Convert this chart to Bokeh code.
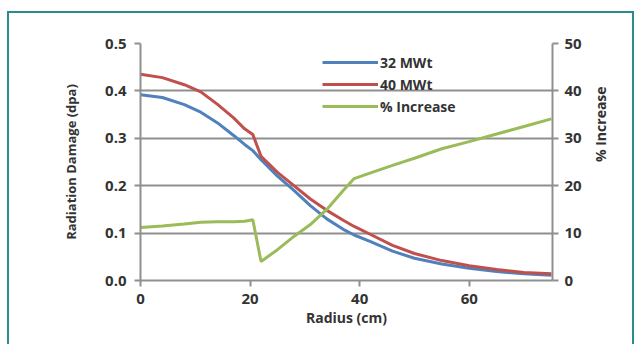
import math
from bokeh.plotting import figure
from bokeh.models import (LinearAxis, Range1d, Legend, LegendItem, FixedTicker,
                          CustomJSTickFormatter)
from bokeh.embed import file_html
from bokeh.resources import INLINE

# Radial profile (cm)
radius = [0, 4, 8, 11, 14, 17, 19, 20.5, 22, 25, 28, 31, 34, 37, 39, 42, 46, 50, 55, 60, 65, 70, 75]
# Radiation damage (dpa) at two power levels
dpa_32 = [0.392, 0.386, 0.371, 0.355, 0.333, 0.306, 0.287, 0.274, 0.255, 0.220, 0.190, 0.158,
          0.130, 0.108, 0.096, 0.082, 0.062, 0.047, 0.035, 0.026, 0.019, 0.014, 0.011]
dpa_40 = [0.435, 0.428, 0.413, 0.398, 0.372, 0.343, 0.320, 0.308, 0.262, 0.228, 0.200, 0.172,
          0.148, 0.127, 0.114, 0.097, 0.074, 0.057, 0.042, 0.031, 0.023, 0.017, 0.014]
# Percentage increase from 32 to 40 MWt
pct_increase = [11.2, 11.5, 11.9, 12.3, 12.4, 12.4, 12.5, 12.8, 4.0, 6.5, 9.3, 11.8,
                15.0, 19.0, 21.5, 22.7, 24.3, 25.8, 27.8, 29.3, 30.9, 32.5, 34.1]

x_ticks = [0, 20, 40, 60]
dpa_ticks = [0.0, 0.1, 0.2, 0.3, 0.4, 0.5]
pct_ticks = [0, 10, 20, 30, 40, 50]

FONT = "Open Sans"
TXT = "#333333"
GRID = "#8f8f8f"
TEAL = "#2E8B8B"

# teal frame (top, left, right edges) painted behind a transparent canvas border
stroke = f"linear-gradient({TEAL},{TEAL})"
frame_bg = ", ".join([
    f"{stroke} 7px 11px / 627px 2px no-repeat",
    f"{stroke} 7px 11px / 2px 340px no-repeat",
    f"{stroke} 632px 11px / 2px 340px no-repeat",
])

p = figure(width=636, height=344, output_backend="svg", toolbar_location=None,
           x_range=Range1d(0, 75.2), y_range=Range1d(0, 0.5),
           min_border_left=140, min_border_right=84, min_border_top=43, min_border_bottom=64,
           styles={"background": frame_bg})
p.outline_line_color = None
p.background_fill_color = "white"
p.border_fill_color = None

p.extra_y_ranges = {"pct": Range1d(0, 50)}

bottom = p.xaxis[0]
left = p.yaxis[0]
bottom.ticker = FixedTicker(ticks=x_ticks)
left.ticker = FixedTicker(ticks=dpa_ticks)
left.formatter = CustomJSTickFormatter(code="return tick.toFixed(1);")

right = LinearAxis(y_range_name="pct", ticker=FixedTicker(ticks=pct_ticks))
p.add_layout(right, "right")

for ax in (bottom, left, right):
    ax.axis_line_color = GRID
    ax.axis_line_width = 2
    ax.major_tick_line_color = GRID
    ax.major_tick_line_width = 2
    ax.major_tick_in = 0
    ax.major_tick_out = 6
    ax.minor_tick_line_color = None
    ax.major_label_text_font = FONT
    ax.major_label_text_font_style = "bold"
    ax.major_label_text_font_size = "15px"
    ax.major_label_text_color = TXT
    ax.axis_label_text_font = FONT
    ax.axis_label_text_font_style = "bold"
    ax.axis_label_text_color = TXT

bottom.major_label_standoff = 7
left.major_label_standoff = 8
right.major_label_standoff = 6

bottom.axis_label = "Radius (cm)"
bottom.axis_label_text_font_size = "14px"
bottom.axis_label_standoff = 1

left.axis_label = "Radiation Damage (dpa)"
left.axis_label_text_font_size = "13px"
left.axis_label_standoff = 22

# secondary title reads bottom to top and hangs below the axis midpoint
right.axis_label_text_font_size = "14px"
right.axis_label_standoff = 16
if "axis_label_orientation" in right.properties():
    right.axis_label_orientation = math.pi / 2
    right.axis_label_text_align = "right"
    right.axis_label = "% Increase" + "\u00a0" * 2
else:
    right.axis_label = "\u00a0" * 26 + "% Increase"

p.xgrid.grid_line_color = None
p.ygrid.ticker = FixedTicker(ticks=dpa_ticks[1:])
p.ygrid.grid_line_color = GRID
p.ygrid.grid_line_width = 2

r32 = p.line(radius, dpa_32, line_color="#4F81BD", line_width=3)
r40 = p.line(radius, dpa_40, line_color="#C0504D", line_width=3)
rpc = p.line(radius, pct_increase, y_range_name="pct", line_color="#9BBB59", line_width=3)

legend = Legend(items=[LegendItem(label="32 MWt", renderers=[r32]),
                       LegendItem(label="40 MWt", renderers=[r40]),
                       LegendItem(label="% Increase", renderers=[rpc])],
                location=(182, 164), background_fill_alpha=0, border_line_color=None,
                label_text_font=FONT, label_text_font_style="bold", label_text_font_size="14px",
                label_text_color=TXT, glyph_width=56, glyph_height=20, spacing=2,
                label_standoff=2, padding=0, margin=0, label_height=20)
p.add_layout(legend, "center")

open("out.html", "w").write(file_html(p, INLINE))
